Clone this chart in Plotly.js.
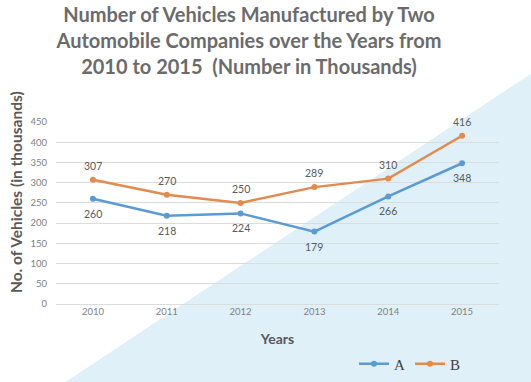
<!DOCTYPE html>
<html>
<head>
<meta charset="utf-8">
<script src="https://cdn.plot.ly/plotly-3.0.1.min.js"></script>
<style>html,body{margin:0;padding:0;background:#fff;}#chart{width:531px;height:382px;}</style>
</head>
<body>
<div id="chart"></div>
<script>
var years = ["2010", "2011", "2012", "2013", "2014", "2015"];
var seriesA = [260, 218, 224, 179, 266, 348];
var seriesB = [307, 270, 250, 289, 310, 416];
var yTicks = [0, 50, 100, 150, 200, 250, 300, 350, 400, 450];
var seriesNames = ["A", "B"];

var colA = "#5b9bd5", colB = "#e38b4f";
var labelFont = {family: "Lato, 'Open Sans', sans-serif", size: 10.5, color: "#595959"};

var traces = [
  {x: years, y: seriesA, name: seriesNames[0], type: "scatter", mode: "lines+markers",
   line: {color: colA, width: 2.5}, marker: {color: colA, size: 6}},
  {x: years, y: seriesB, name: seriesNames[1], type: "scatter", mode: "lines+markers",
   line: {color: colB, width: 2.5}, marker: {color: colB, size: 6}}
];

var L = 56, R = 32, T = 122, B = 78, W = 531, H = 382;
var pw = W - L - R, ph = H - T - B;
function px(x){ return (x - L) / pw; }
function py(y){ return (H - B - y) / ph; }

var annotations = [];
years.forEach(function(yr, i){
  annotations.push({x: i, y: seriesA[i], xref: "x", yref: "y", text: String(seriesA[i]),
    showarrow: false, yshift: -15, font: labelFont});
  annotations.push({x: i, y: seriesB[i], xref: "x", yref: "y", text: String(seriesB[i]),
    showarrow: false, yshift: 14, font: labelFont});
});
annotations.push({
  text: "No. of Vehicles (in thousands)", textangle: -90, showarrow: false,
  xref: "paper", yref: "paper", x: px(16), y: py(192), xanchor: "center", yanchor: "middle",
  font: {family: "Lato, 'Open Sans', sans-serif", size: 15.5, color: "#595959", weight: 700}
});

var layout = {
  width: W, height: H,
  margin: {l: L, r: R, t: T, b: B, pad: 0, autoexpand: false},
  paper_bgcolor: "#ffffff",
  plot_bgcolor: "rgba(0,0,0,0)",
  title: {
    text: "Number of Vehicles Manufactured by Two<br>Automobile Companies over the Years from<br>2010 to 2015  (Number in Thousands)",
    font: {family: "Lato, 'Open Sans', sans-serif", size: 20, color: "#6b6b6b", weight: 700},
    x: 249 / W, xanchor: "center", y: 1 - 22 / H, yanchor: "middle"
  },
  xaxis: {
    type: "category", range: [-0.5, 5.5], showgrid: false, zeroline: false, showline: false,
    ticks: "", automargin: false,
    tickfont: {family: "Lato, 'Open Sans', sans-serif", size: 9.5, color: "#7f7f7f"},
    title: {text: "Years", font: {family: "Lato, 'Open Sans', sans-serif", size: 14, color: "#595959", weight: 700}, standoff: 18},
    fixedrange: true
  },
  yaxis: {
    range: [0, 450], tickvals: yTicks, showgrid: true, gridcolor: "#dcdcdc", gridwidth: 1,
    zeroline: true, zerolinecolor: "#dcdcdc", zerolinewidth: 1, showline: false, ticks: "",
    automargin: false,
    tickfont: {family: "Lato, 'Open Sans', sans-serif", size: 9.5, color: "#7f7f7f"},
    ticklabelstandoff: 8,
    fixedrange: true
  },
  annotations: annotations,
  showlegend: true,
  legend: {
    orientation: "h", x: px(354), xanchor: "left", y: py(364), yanchor: "middle",
    bgcolor: "rgba(0,0,0,0)", itemwidth: 30, traceorder: "normal",
    font: {family: "'Liberation Serif', 'DejaVu Serif', serif", size: 15, color: "#404040"}
  },
  shapes: [{
    type: "path", xref: "paper", yref: "paper", layer: "below",
    path: "M " + px(64) + " " + py(383) + " L " + px(532) + " " + py(73) + " L " + px(532) + " " + py(383) + " Z",
    fillcolor: "#dff0f8", line: {width: 0}
  }]
};

Plotly.newPlot("chart", traces, layout, {displayModeBar: false, staticPlot: true});
</script>
</body>
</html>
